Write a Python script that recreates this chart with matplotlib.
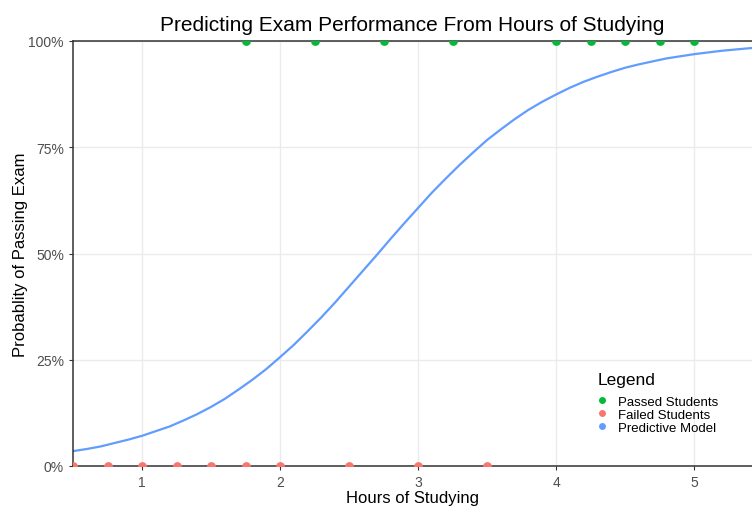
import numpy as np
import matplotlib
matplotlib.use("Agg")
import matplotlib.pyplot as plt
from matplotlib.lines import Line2D

# ── Data ──────────────────────────────────────────────────────────────────────
passed_hours = [1.75, 2.25, 2.75, 3.25, 4.0, 4.25, 4.5, 4.75, 5.0, 5.5]
failed_hours = [0.5, 0.75, 1.0, 1.25, 1.5, 1.75, 2.0, 2.5, 3.0, 3.5]

model_hours = [0.5, 0.6, 0.7, 0.8, 0.9, 1.0, 1.1, 1.2, 1.3, 1.4, 1.5, 1.6, 1.7,
               1.8, 1.9, 2.0, 2.1, 2.2, 2.3, 2.4, 2.5, 2.6, 2.7, 2.8, 2.9, 3.0,
               3.1, 3.2, 3.3, 3.4, 3.5, 3.6, 3.7, 3.8, 3.9, 4.0, 4.1, 4.2, 4.3,
               4.4, 4.5, 4.6, 4.7, 4.8, 4.9, 5.0, 5.1, 5.2, 5.3, 5.4, 5.5]
model_prob = [0.035, 0.040, 0.046, 0.054, 0.062, 0.071, 0.082, 0.093, 0.107,
              0.122, 0.139, 0.158, 0.180, 0.203, 0.228, 0.256, 0.285, 0.317,
              0.350, 0.385, 0.422, 0.459, 0.496, 0.534, 0.571, 0.607, 0.643,
              0.676, 0.708, 0.738, 0.767, 0.792, 0.816, 0.838, 0.857, 0.874,
              0.890, 0.904, 0.916, 0.927, 0.937, 0.945, 0.952, 0.959, 0.964,
              0.969, 0.973, 0.977, 0.980, 0.983, 0.985]

x_ticks = [1, 2, 3, 4, 5]
y_ticks = [0, 0.25, 0.5, 0.75, 1.0]
y_tick_labels = ["0%", "25%", "50%", "75%", "100%"]

GREEN = "#00BA38"
RED = "#F8766D"
BLUE = "#619CFF"

plt.rcParams["font.family"] = ["Liberation Sans", "DejaVu Sans"]

fig = plt.figure(figsize=(7.52, 5.10), dpi=100)
ax = fig.add_axes([73 / 752, 43 / 510, 679 / 752, 425 / 510])

ax.plot(model_hours, model_prob, color=BLUE, lw=1.6, zorder=2,
        solid_joinstyle="round")
ax.scatter(passed_hours, np.ones(len(passed_hours)), color=GREEN, s=40,
           zorder=3, linewidths=0, clip_on=True)
ax.scatter(failed_hours, np.zeros(len(failed_hours)), color=RED, s=40,
           zorder=3, linewidths=0, clip_on=True)

ax.set_xlim(0.5, 5.42)
ax.set_ylim(0, 1)
ax.set_xticks(x_ticks)
ax.set_yticks(y_ticks)
ax.set_yticklabels(y_tick_labels)
ax.tick_params(axis="both", colors="#333333", labelcolor="#4d4d4d",
               labelsize=10, length=3, width=0.8)

ax.grid(True, color="#ebebeb", lw=1.0)
ax.set_axisbelow(True)
for side in ["left", "top", "bottom"]:
    ax.spines[side].set_color("#333333")
    ax.spines[side].set_linewidth(1.1)
ax.spines["right"].set_visible(False)

ax.set_xlabel("Hours of Studying", fontsize=12, labelpad=1)
ax.set_ylabel("Probablity of Passing Exam", fontsize=12, labelpad=0)
ax.set_title("Predicting Exam Performance From Hours of Studying",
             fontsize=15, pad=8)

handles = [
    Line2D([], [], ls="none", marker="o", ms=5, color=GREEN, mec="none"),
    Line2D([], [], ls="none", marker="o", ms=5, color=RED, mec="none"),
    Line2D([], [], ls="none", marker="o", ms=5, color=BLUE, mec="none"),
]
leg = ax.legend(handles, ["Passed Students", "Failed Students", "Predictive Model"],
                title="Legend", loc="lower left", bbox_to_anchor=(0.772, 0.076),
                frameon=False, fontsize=9.5, title_fontsize=12.5,
                handletextpad=0.83, labelspacing=0.05, handlelength=0.75,
                borderaxespad=0, borderpad=0)
leg._legend_box.align = "left"
leg._legend_box.sep = 6

fig.savefig("out.png", dpi=100)
